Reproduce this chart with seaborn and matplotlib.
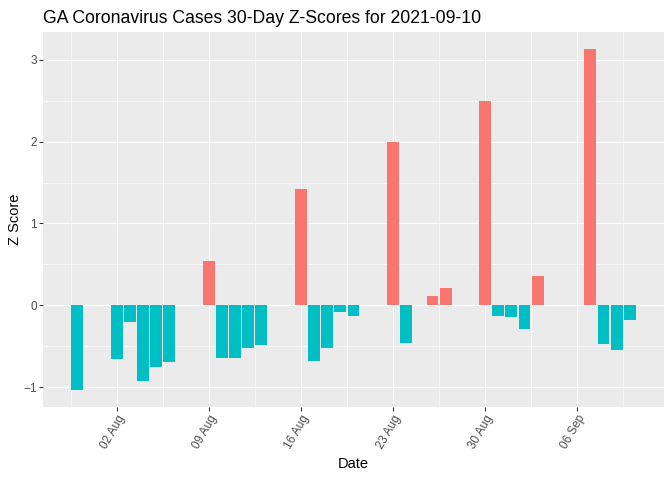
import numpy as np
import pandas as pd
import seaborn as sns
import matplotlib
matplotlib.use("Agg")
from matplotlib import pyplot as plt
import matplotlib.dates as mdates
from matplotlib.ticker import FixedLocator, MultipleLocator

# z-scores per report day (weekends / missing days have no bar)
dates = [
    "2021-07-30",
    "2021-08-02", "2021-08-03", "2021-08-04", "2021-08-05", "2021-08-06",
    "2021-08-09", "2021-08-10", "2021-08-11", "2021-08-12", "2021-08-13",
    "2021-08-16", "2021-08-17", "2021-08-18", "2021-08-19", "2021-08-20",
    "2021-08-23", "2021-08-24", "2021-08-26", "2021-08-27",
    "2021-08-30", "2021-08-31", "2021-09-01", "2021-09-02", "2021-09-03",
    "2021-09-07", "2021-09-08", "2021-09-09", "2021-09-10",
]
z_scores = [
    -1.03,
    -0.65, -0.20, -0.93, -0.75, -0.69,
    0.54, -0.64, -0.64, -0.52, -0.48,
    1.42, -0.68, -0.52, -0.08, -0.13,
    2.00, -0.46, 0.12, 0.21,
    2.49, -0.13, -0.14, -0.29, 0.36,
    3.13, -0.47, -0.55, -0.18,
]
fill_colors = {"up": "#F8766D", "down": "#00BFC4"}

df = pd.DataFrame({"date": pd.to_datetime(dates), "z": z_scores})
df["x"] = mdates.date2num(df["date"])
df["dir"] = np.where(df["z"] > 0, "up", "down")

sns.set_style("darkgrid", {"axes.facecolor": "#EBEBEB", "grid.color": "white"})
plt.rcParams["font.family"] = ["Liberation Sans", "DejaVu Sans"]

fig = plt.figure(figsize=(7, 5), dpi=96)
ax = fig.add_axes([43 / 672, 1 - 406.7 / 480, (664 - 43) / 672, (406.7 - 32) / 480])

sns.barplot(data=df, x="x", y="z", hue="dir", palette=fill_colors, native_scale=True,
            width=0.9, dodge=False, errorbar=None, legend=False, saturation=1,
            linewidth=0, ax=ax)

# ggplot-like expansion (5% each side)
lo, hi = df["x"].min() - 0.45, df["x"].max() + 0.45
pad = (hi - lo) * 0.05
ax.set_xlim(lo - pad, hi + pad)
ymin, ymax = min(0, df["z"].min()), df["z"].max()
ypad = (ymax - ymin) * 0.05
ax.set_ylim(ymin - ypad, ymax + ypad)

ax.xaxis.set_major_locator(mdates.WeekdayLocator(byweekday=mdates.MO))
ax.xaxis.set_major_formatter(mdates.DateFormatter("%d %b"))
major = [t for t in ax.get_xticks() if lo - pad <= t <= hi + pad]
ax.xaxis.set_minor_locator(FixedLocator([t - 3.5 for t in major] + [major[-1] + 3.5]))
ax.yaxis.set_major_locator(MultipleLocator(1))
ax.yaxis.set_minor_locator(FixedLocator([-0.5, 0.5, 1.5, 2.5]))

ax.grid(which="major", color="white", linewidth=0.85)
ax.grid(which="minor", color="white", linewidth=0.45)
ax.set_axisbelow(True)
for s in ax.spines.values():
    s.set_visible(False)

ax.tick_params(which="major", length=2.75, width=0.8, color="#333333",
               labelcolor="#4D4D4D", labelsize=8.8, pad=2)
ax.tick_params(which="minor", length=0)
ax.tick_params(axis="both", which="both", bottom=True, left=True)
plt.setp(ax.get_xticklabels(), rotation=60, ha="right", va="top", rotation_mode="anchor")

ax.set_xlabel("Date", fontsize=11, color="black", labelpad=4)
ax.set_ylabel("Z Score", fontsize=11, color="black", labelpad=1)
ax.set_title("GA Coronavirus Cases 30-Day Z-Scores for 2021-09-10", loc="left",
             fontsize=13.2, color="black", pad=7)

fig.savefig("out.png", dpi=96)
